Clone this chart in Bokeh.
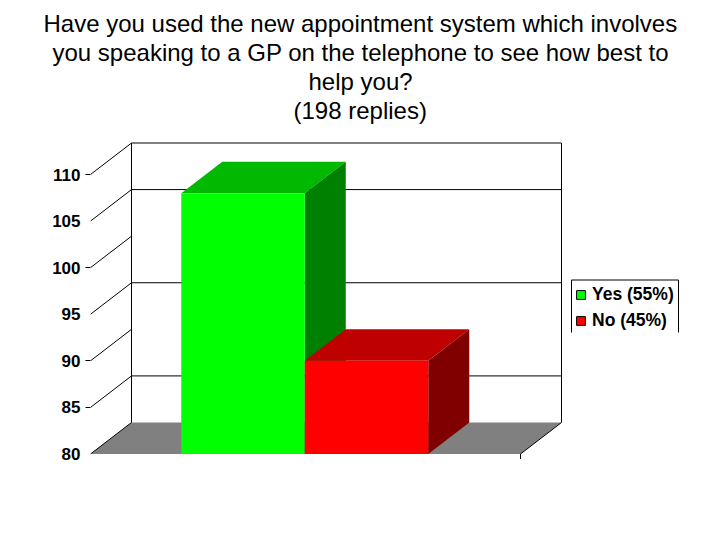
from bokeh.plotting import figure
from bokeh.models import Range1d, Title, Legend, LegendItem, FixedTicker, LinearAxis
from bokeh.embed import file_html
from bokeh.resources import INLINE

title_lines = ["Have you used the new appointment system which involves",
               "you speaking to a GP on the telephone to see how best to",
               "help you?",
               "(198 replies)"]
title_starts = [43, 52, 308, 293]
categories = ["Yes (55%)", "No (45%)"]
values = [108, 90]
front_colors = ["#00ff00", "#ff0000"]
top_colors = ["#00b900", "#bf0000"]
side_colors = ["#008000", "#800000"]
y_ticks = [80, 85, 90, 95, 100, 105, 110]
short_ticks = [85, 90, 100, 110]
grid_values = [85, 95, 105]

# layout (page pixels)
W, H = 712, 532
FL, FR, FT, FB = 90, W, 123, 470
Y110, Y80 = 174, 453.5
unit = (Y80 - Y110) / 30
bar_w = 123.5
dx = 41 / bar_w      # depth in category units
dy = 31.5 / unit     # depth in value units
x_of = lambda px: (px - 242.5) / bar_w
y_of = lambda py: 110 - (py - Y110) / unit
xl, xr = x_of(90), x_of(520)

p = figure(width=W, height=H, output_backend="svg", toolbar_location=None,
           x_axis_type=None, y_axis_type=None,
           x_range=Range1d(x_of(FL), x_of(FR)),
           y_range=Range1d(y_of(FB), y_of(FT)),
           min_border_left=FL, min_border_right=0,
           min_border_top=FT, min_border_bottom=H - FB,
           outline_line_color=None)
p.grid.visible = False

axis = LinearAxis(ticker=FixedTicker(ticks=y_ticks, minor_ticks=short_ticks),
                  axis_line_color=None, major_tick_in=0, major_tick_out=0,
                  minor_tick_in=0, minor_tick_out=5, minor_tick_line_color="black",
                  major_label_standoff=5, major_label_text_font="Liberation Sans",
                  major_label_text_font_style="bold", major_label_text_font_size="17px",
                  major_label_text_color="black")
p.add_layout(axis, "left")

for line, start in reversed(list(zip(title_lines, title_starts))):
    p.add_layout(Title(text=line, align="left", offset=start - FL, standoff=0,
                       text_font="Liberation Sans", text_font_style="normal",
                       text_font_size="24px", text_color="black"), "above")

# floor
p.patch([xl, xl + dx, xr + dx, xr], [80, 80 + dy, 80 + dy, 80], color="#808080", line_width=0)
# back wall and side
p.line([xl + dx, xl + dx, xr + dx, xr + dx], [80 + dy, 110 + dy, 110 + dy, 80 + dy],
       color="black", line_width=1)
# grid on back wall
p.segment([xl + dx] * len(grid_values), [g + dy for g in grid_values],
          [xr + dx] * len(grid_values), [g + dy for g in grid_values],
          color="black", line_width=1)
# diagonals on left wall, from each tick
p.segment([xl] * len(y_ticks), y_ticks, [xl + dx] * len(y_ticks), [t + dy for t in y_ticks],
          color="black", line_width=1)
# right edge of floor and its end tick
p.segment([xr], [80], [xr + dx], [80 + dy], color="black", line_width=1)
p.segment([xr], [80], [xr], [80 - 5 / unit], color="black", line_width=1)

# 3D bars
for i, v in enumerate(values):
    l, r = i - 0.5, i + 0.5
    p.patch([l, l + dx, r + dx, r], [v, v + dy, v + dy, v], color=top_colors[i], line_width=0)
    p.patch([r, r + dx, r + dx, r], [80, 80 + dy, v + dy, v], color=side_colors[i], line_width=0)
    p.quad(left=[l], right=[r], bottom=[80], top=[v], color=front_colors[i], line_width=0)

# legend: swatches only, box drawn open at the bottom as in the picture
nan = float("nan")
items = []
for i, c in enumerate(categories):
    sw = p.quad(left=[nan], right=[nan], bottom=[nan], top=[nan],
                fill_color=front_colors[i], line_color="black")
    items.append(LegendItem(label=c, renderers=[sw]))
leg = Legend(items=items, location=(575 - FL, FB - 331), border_line_color=None,
             background_fill_alpha=0, margin=0, padding=5, spacing=5,
             glyph_width=11, glyph_height=11, label_standoff=6, label_height=21,
             label_text_font="Liberation Sans", label_text_font_style="bold",
             label_text_font_size="17.5px", label_text_color="black")
p.add_layout(leg, "center")
bx0, bx1 = x_of(571), x_of(678)
by0, by1 = y_of(279.5), y_of(332)
p.line([bx0, bx0, bx1, bx1], [by1, by0, by0, by1], color="black", line_width=1)

open("out.html", "w").write(file_html(p, INLINE))
